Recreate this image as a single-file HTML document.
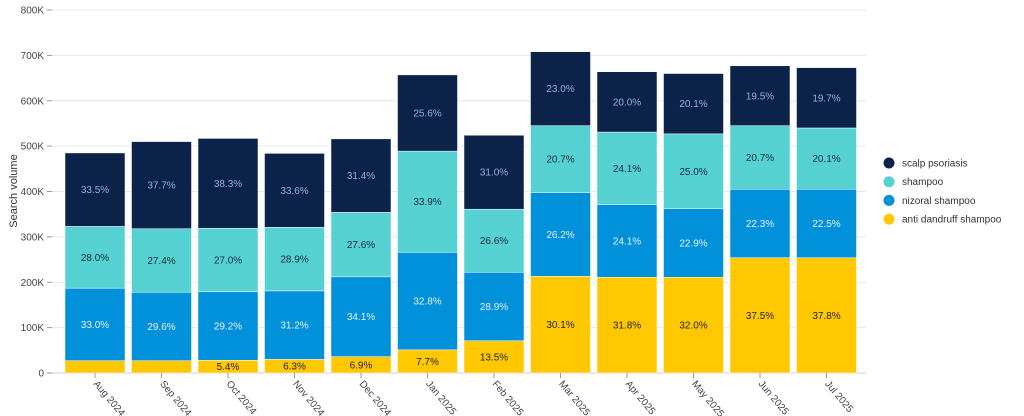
<!DOCTYPE html>
<html><head><meta charset="utf-8"><style>
html,body{margin:0;padding:0;background:#fff;}
svg{display:block;font-family:"Liberation Sans",sans-serif;}
</style></head><body>
<svg id="chart" width="1024" height="416" viewBox="0 0 1024 416"></svg>
<script>
const categories=["Aug 2024","Sep 2024","Oct 2024","Nov 2024","Dec 2024","Jan 2025","Feb 2025","Mar 2025","Apr 2025","May 2025","Jun 2025","Jul 2025"];
const antiDandruff=[27,27,28,30,36,51,71,213,211,211,254,254];
const nizoral=[160,151,151,151,176,215,151,185,160,151,151,151];
const shampoo=[136,140,140,140,142,223,139,147,160,165,140,135];
const scalp=[162,192,198,163,162,168,163,163,133,133,132,133];
const antiLabels=["","","5.4%","6.3%","6.9%","7.7%","13.5%","30.1%","31.8%","32.0%","37.5%","37.8%"];
const nizoralLabels=["33.0%","29.6%","29.2%","31.2%","34.1%","32.8%","28.9%","26.2%","24.1%","22.9%","22.3%","22.5%"];
const shampooLabels=["28.0%","27.4%","27.0%","28.9%","27.6%","33.9%","26.6%","20.7%","24.1%","25.0%","20.7%","20.1%"];
const scalpLabels=["33.5%","37.7%","38.3%","33.6%","31.4%","25.6%","31.0%","23.0%","20.0%","20.1%","19.5%","19.7%"];
const yTicks=[0,100,200,300,400,500,600,700,800];
const yTickLabels=["0","100K","200K","300K","400K","500K","600K","700K","800K"];

const NS="http://www.w3.org/2000/svg";
const svg=document.getElementById('chart');
const X0=52,X1=866,Y0=373,Y1=10,YMAX=800;
const B0=61.75,B1=859.75;
const step=(B1-B0)/categories.length, bw=60;
const y=v=>Y0-(v/YMAX)*(Y0-Y1);
const xc=i=>B0+step*(i+0.5);
function el(t,a,p){const e=document.createElementNS(NS,t);for(const k in a)e.setAttribute(k,a[k]);(p||svg).appendChild(e);return e;}

const grid=el('g',{});


yTicks.forEach((t,i)=>{
  el('line',{x1:X0,x2:X1,y1:y(t),y2:y(t),stroke:'#e6e6e6','stroke-width':1},grid);
  el('line',{x1:X0-5,x2:X0,y1:y(t),y2:y(t),stroke:'#999','stroke-width':1},grid);
  const tx=el('text',{x:X0-8,y:y(t)+3.5,'text-anchor':'end','font-size':10,fill:'#444'},grid);
  tx.textContent=yTickLabels[i];
  
  
});
el('line',{x1:X0,x2:X1,y1:Y0,y2:Y0,stroke:'#ccc','stroke-width':1});
const yt=el('text',{x:0,y:0,transform:'translate(17,191) rotate(-90)','text-anchor':'middle','font-size':11,fill:'#333'});
yt.textContent='Search volume';



const series=[
 {name:'anti-dandruff',vals:antiDandruff,labels:antiLabels,color:'#ffc800',tc:'#222'},
 {name:'nizoral',vals:nizoral,labels:nizoralLabels,color:'#0091da',tc:'#e8f2ff'},
 {name:'shampoo',vals:shampoo,labels:shampooLabels,color:'#54d1d0',tc:'#1a2a3a'},
 {name:'scalp-psoriasis',vals:scalp,labels:scalpLabels,color:'#0b2249',tc:'#8fb3e0'}
];
categories.forEach((c,i)=>{
  let base=0;
  series.forEach(s=>{
    const v=s.vals[i];
    const top=base+v;
    const r=el('rect',{x:xc(i)-bw/2,y:y(top),width:bw,height:y(base)-y(top),fill:s.color,stroke:'#fff','stroke-width':0.5});
    
    
    if(s.labels[i]){
      const t=el('text',{x:xc(i),y:(y(base)+y(top))/2+3.5,'text-anchor':'middle','font-size':10,fill:s.tc});
      t.textContent=s.labels[i];
      
      
    }
    base=top;
  });
  el('line',{x1:xc(i),x2:xc(i),y1:Y0,y2:Y0+5,stroke:'#999'});
  const xl=el('text',{x:0,y:0,transform:`translate(${xc(i)-2},${Y0+11}) rotate(50)`,'font-size':10,fill:'#444'});
  xl.textContent=c;
  
  
});

const legendItems=[['scalp psoriasis','#0b2249'],['shampoo','#54d1d0'],['nizoral shampoo','#0091da'],['anti dandruff shampoo','#ffc800']];
const lg=el('g',{});


legendItems.forEach((it,i)=>{
  const g=el('g',{},lg);
  
  
  const yy=163+i*18.7;
  el('circle',{cx:889,cy:yy,r:5.5,fill:it[1]},g);
  const t=el('text',{x:902,y:yy+3.5,'font-size':10,fill:'#333'},g);
  t.textContent=it[0];
});
</script>
</body></html>
